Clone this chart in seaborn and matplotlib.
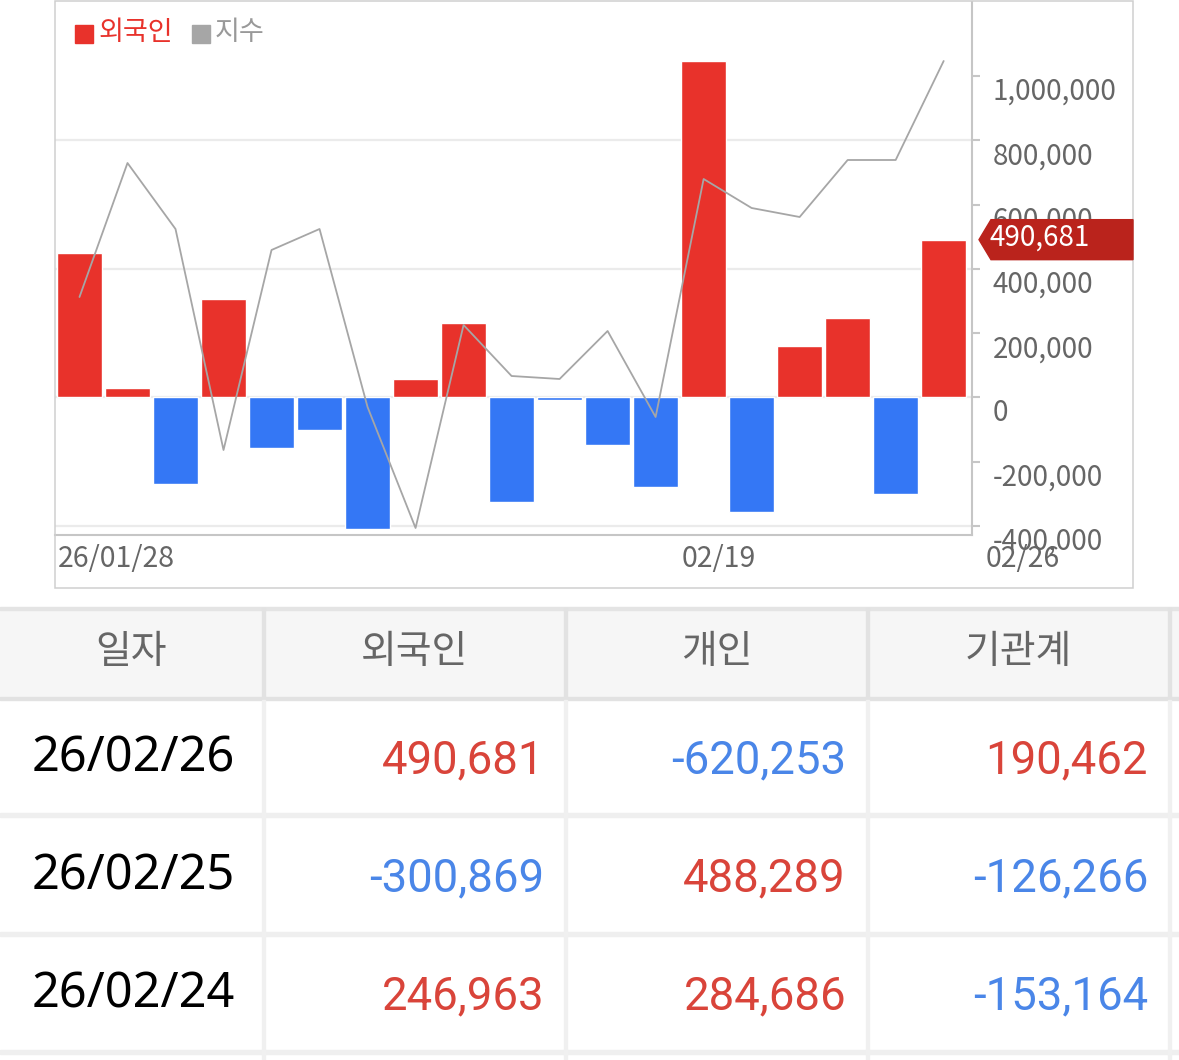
import numpy as np
import pandas as pd
import matplotlib
matplotlib.use("Agg")
import matplotlib.pyplot as plt
import seaborn as sns
from matplotlib.patches import Rectangle, Polygon
from matplotlib.transforms import ScaledTranslation
from matplotlib.ticker import FuncFormatter

# data
dates = ["26/01/28", "26/01/29", "26/01/30", "26/02/02", "26/02/03", "26/02/04",
         "26/02/05", "26/02/06", "26/02/09", "26/02/10", "26/02/11", "26/02/12",
         "26/02/13", "26/02/19", "26/02/20", "26/02/23", "26/02/24", "26/02/25",
         "26/02/26"]
foreign = [449000, 30000, -268000, 307000, -157000, -102000, -410000, 56000,
           233000, -326000, -8000, -148000, -279000, 1045000, -355000, 159000,
           246963, -300869, 490681]
# index line (its own hidden scale)
index_line = [238, 372, 306, 85, 285, 306, 128, 7, 210, 159, 156, 204, 118,
              356, 327, 318, 375, 375, 474]
tick_labels = ["26/01/28", "02/19", "02/26"]
tick_idx = [0, 13, 18]
y_ticks = [-400000, -200000, 0, 200000, 400000, 600000, 800000, 1000000]

table_cols = ["일자", "외국인", "개인", "기관계"]
table_dates = ["26/02/26", "26/02/25", "26/02/24"]
individual = [-620253, 488289, 284686]
institution = [190462, -126266, -153164]

RED = "#e8322b"
BLUE = "#3477f5"
TXT_RED = "#d9443a"
TXT_BLUE = "#4a86e8"
GRAY = "#666666"

W, H = 1179, 1060

sns.set_theme(style="white")
plt.rcParams["font.family"] = ["Noto Sans CJK KR", "DejaVu Sans"]


def fx(x):
    return x / W


def fy(y):
    return 1 - y / H


fig = plt.figure(figsize=(W / 100, H / 100), dpi=100)
ax = fig.add_axes([fx(55), fy(535), (972 - 55) / W, (535 - 2) / H])

df = pd.DataFrame({"date": dates, "foreign": foreign})
df["side"] = np.where(df["foreign"] >= 0, "buy", "sell")
sns.barplot(data=df, x="date", y="foreign", hue="side",
            palette={"buy": RED, "sell": BLUE}, dodge=False, width=0.94,
            saturation=1, legend=False, ax=ax, zorder=3)

# index line on a hidden twin axis
ax2 = ax.twinx()
sns.lineplot(x=np.arange(len(index_line)), y=index_line, color="#a6a6a6",
             lw=1.3, ax=ax2, zorder=4)
ax2.set_ylim(0, 533)
ax2.set_yticks([])
ax2.set_ylabel("")
for s in ax2.spines.values():
    s.set_visible(False)

ax.set_xlim(-0.51, 18.59)
ax.set_ylim(-428000, 1230000)
for g in [-400000, 0, 400000, 800000]:
    ax.axhline(g, color="#ebebeb", lw=1.6, zorder=1)

ax.set_xlabel("")
ax.set_ylabel("")
for s in ["left", "top"]:
    ax.spines[s].set_visible(False)
for s in ["right", "bottom"]:
    ax.spines[s].set_color("#c6c6c6")
    ax.spines[s].set_linewidth(1.5)

ax.yaxis.tick_right()
ax.set_yticks(y_ticks)
ax.yaxis.set_major_formatter(FuncFormatter(lambda v, p: f"{int(v):,}"))
ax.tick_params(axis="y", right=True, left=False, labelright=True, labelleft=False,
               length=6, width=1.5, color="#c6c6c6", pad=9.0,
               labelsize=20, labelcolor=GRAY)
for lab in ax.get_yticklabels():
    lab.set_transform(lab.get_transform() + ScaledTranslation(0, -0.125, fig.dpi_scale_trans))

ax.set_xticks(tick_idx)
ax.set_xticklabels(tick_labels)
ax.tick_params(axis="x", length=0, pad=0, labelsize=20.5, labelcolor=GRAY)
x_shift = [-0.215, -0.215, 0.415]
for lab, dx in zip(ax.get_xticklabels(), x_shift):
    lab.set_ha("left")
    lab.set_va("center")
    lab.set_transform(lab.get_transform() + ScaledTranslation(dx, -0.235, fig.dpi_scale_trans))

# outer chart frame
fig.patches.append(Rectangle((fx(55), fy(588)), (1133 - 55) / W, (588 - 1) / H,
                             transform=fig.transFigure, fill=False,
                             edgecolor="#cfcfcf", lw=1.1))

# legend
fig.patches.append(Rectangle((fx(75), fy(43)), 18 / W, 18 / H,
                             transform=fig.transFigure, color=RED))
fig.text(fx(98), fy(33), "외국인", color=RED, fontsize=19.5, va="center", ha="left")
fig.patches.append(Rectangle((fx(192), fy(43)), 18 / W, 18 / H,
                             transform=fig.transFigure, color="#a6a6a6"))
fig.text(fx(215), fy(33), "지수", color="#999999", fontsize=19.5, va="center", ha="left")

# last value badge
last = foreign[-1]
by = H - ax.transData.transform((0, last))[1]
badge = Polygon([(fx(979), fy(by)), (fx(991), fy(by - 20)), (fx(1133), fy(by - 20)),
                 (fx(1133), fy(by + 20)), (fx(991), fy(by + 20))],
                closed=True, transform=fig.transFigure, color="#ba231c", zorder=10)
fig.patches.append(badge)
fig.text(fx(990), fy(by - 2), f"{last:,}", color="white", fontsize=20,
         va="center", ha="left", zorder=11)

# table below the chart
col_x = [0, 265, 567, 869, 1171, 1179]
row_y = [699, 815, 934, 1052]
fig.patches.append(Rectangle((0, fy(697)), 1, (697 - 608) / H,
                             transform=fig.transFigure, color="#f6f6f6"))
for yy, c, w in [(608, "#e4e4e4", 3), (698, "#e2e2e2", 3)]:
    fig.patches.append(Rectangle((0, fy(yy + w / 2)), 1, w / H,
                                 transform=fig.transFigure, color=c))
for yy in row_y[1:]:
    fig.patches.append(Rectangle((0, fy(yy + 2)), 1, 4 / H,
                                 transform=fig.transFigure, color="#efefef"))
for xx in col_x[1:5]:
    fig.patches.append(Rectangle((fx(xx - 3), fy(697)), 3 / W, (697 - 608) / H,
                                 transform=fig.transFigure, color="#e2e2e2"))
    fig.patches.append(Rectangle((fx(xx - 3), 0), 3 / W, fy(700),
                                 transform=fig.transFigure, color="#f0f0f0"))

centers = [(col_x[i] + col_x[i + 1] - 3) / 2 for i in range(4)]
for cx, name in zip(centers, table_cols):
    fig.text(fx(cx), fy(652), name, color=GRAY, fontsize=28, ha="center", va="center")

text_rows = [758, 876, 994]
rights = [543, 845, 1147]
recent_foreign = foreign[::-1][:3]
for i, d in enumerate(table_dates):
    yy = text_rows[i]
    fig.text(fx(centers[0] + 2), fy(yy), d, color="black", fontsize=35,
             ha="center", va="center", family=["Noto Sans", "DejaVu Sans"])
    for rx, v in zip(rights, [recent_foreign[i], individual[i], institution[i]]):
        fig.text(fx(rx + 1), fy(yy + 2), f"{v:,}", color=TXT_RED if v > 0 else TXT_BLUE,
                 fontsize=32.8, ha="right", va="center", family=["Roboto", "DejaVu Sans"])

fig.savefig("out.png", dpi=100)
